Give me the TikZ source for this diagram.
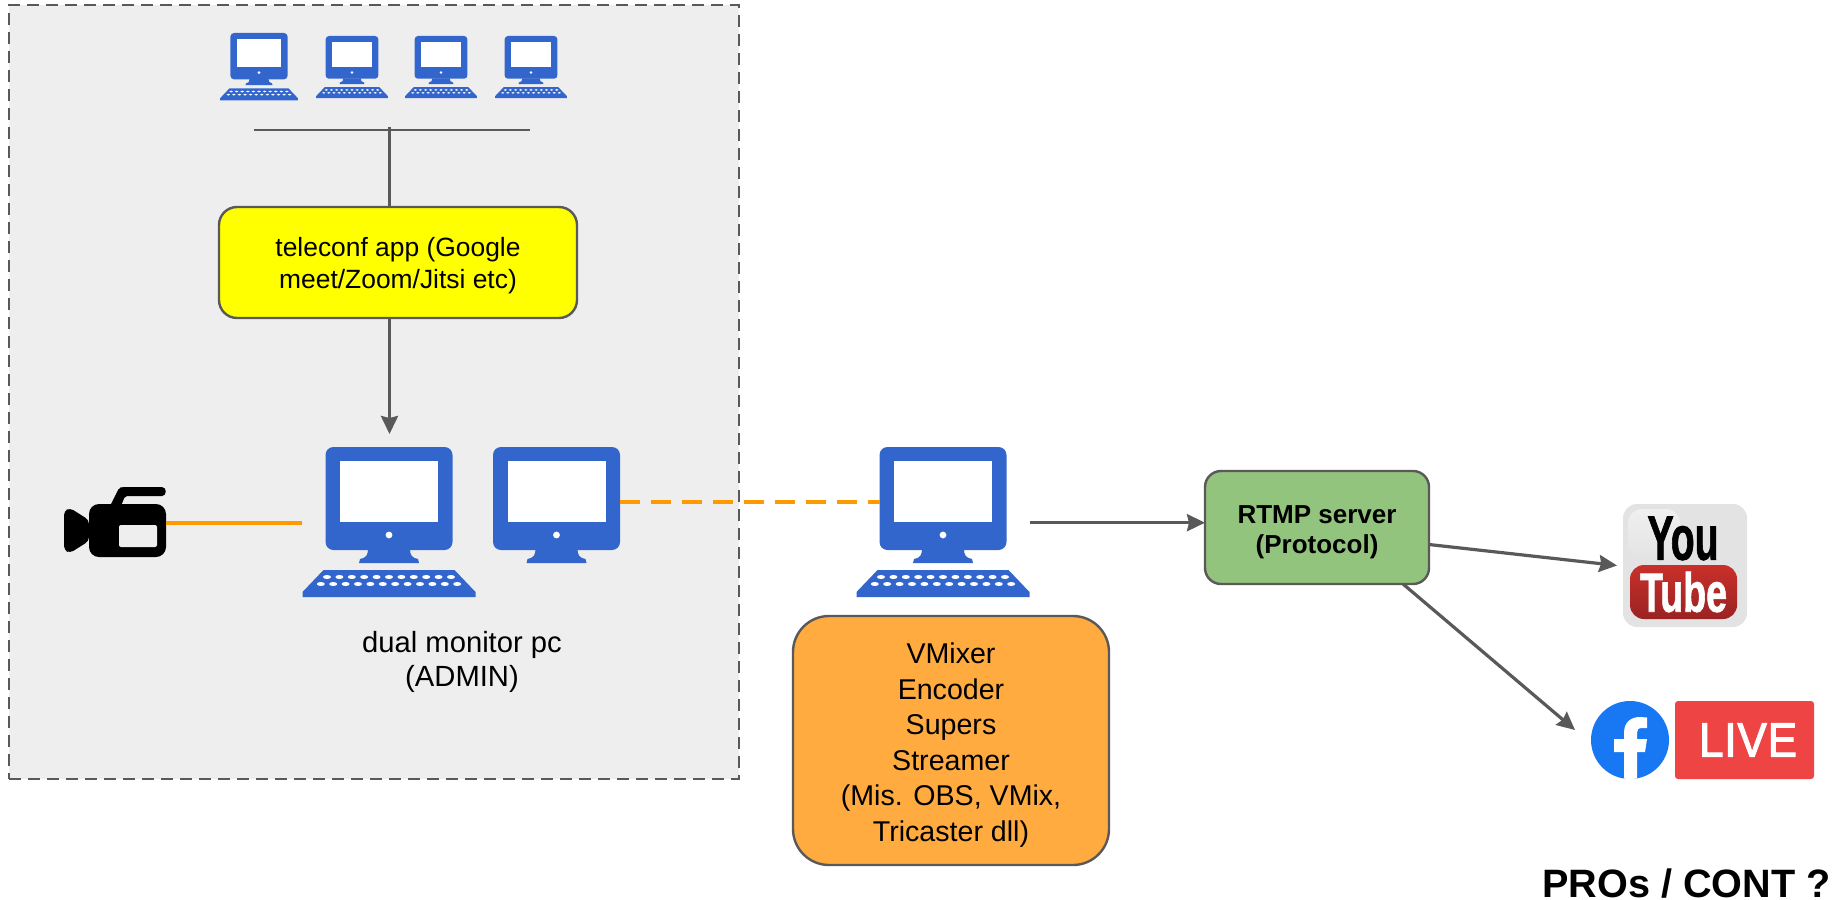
\documentclass[tikz,border=0pt]{standalone}
\usepackage{fontspec}
\usepackage{graphicx}
\setmainfont{Liberation Sans}
\usetikzlibrary{arrows.meta,calc}
\definecolor{pcblue}{HTML}{3366CC}
\definecolor{linegrey}{HTML}{595959}
\definecolor{panelgrey}{HTML}{EEEEEE}
\definecolor{feedorange}{HTML}{FF9900}
\definecolor{boxyellow}{HTML}{FFFF00}
\definecolor{boxgreen}{HTML}{93C47D}
\definecolor{boxorange}{HTML}{FFAB40}
\definecolor{ytgrey}{HTML}{E3E3E3}
\definecolor{ytredtop}{HTML}{C9302A}
\definecolor{ytredbot}{HTML}{9A2323}
\definecolor{fbblue}{HTML}{1877F2}
\definecolor{livered}{HTML}{EE4444}
\tikzset{
  x=0.5pt,y=-0.5pt,
  iconbox/.style={inner sep=0pt,outer sep=0pt,minimum width=#1},
  flow/.style={draw=linegrey,line width=1.6pt,-{Stealth[length=9pt,width=8.5pt,inset=1pt]}},
  plainline/.style={draw=linegrey,line width=1.6pt},
  feed/.style={draw=feedorange,line width=1.9pt},
  feeddash/.style={feed,dash pattern=on 10pt off 5.5pt},
  roundbox/.style={draw=linegrey,line width=1.2pt,align=center,inner sep=0pt,outer sep=0pt,text=black},
  pics/screenunit/.style={code={
    \begin{scope}[scale=#1]
      \fill[pcblue,rounded corners=#1*4pt] (-63.5,0) rectangle (63.5,103);
      \fill[pcblue] (-21,102) .. controls (-21,108) and (-23,111) .. (-29,112) -- (-30,116) -- (30,116) -- (29,112) .. controls (23,111) and (21,108) .. (21,102) -- cycle;
      \fill[white] (-49,14) rectangle (49,75);
      \fill[white] (0,88) ellipse [x radius=3.4,y radius=3.4];
    \end{scope}}},
  pics/keyboardunit/.style={code={
    \begin{scope}[scale=#1]
      \fill[pcblue] (-65.5,123) -- (65.5,123) -- (86.5,145) -- (86.5,150) -- (-86.5,150) -- (-86.5,145) -- cycle;
      \foreach \k in {0,...,10}{\fill[white] (-62+\k*12.4,130) ellipse [x radius=4,y radius=2];}
      \foreach \k in {0,...,11}{\fill[white] (-68.2+\k*12.4,137) ellipse [x radius=4,y radius=2];}
    \end{scope}}},
}
\begin{document}
\begin{tikzpicture}
\useasboundingbox (0,0) rectangle (1834,899);
% panel
\node[draw=linegrey,fill=panelgrey,line width=1.2pt,dash pattern=on 6pt off 3.5pt,inner sep=0pt,minimum width=365pt,minimum height=387pt] (panel) at (374,392) {};

% small computers
\foreach \cx/\cy/\cs in {259/33/.45,352/36/.415,441/36/.415,531/36/.415}{
  \pic at (\cx,\cy) {screenunit=\cs};
  \pic at (\cx,\cy) {keyboardunit=\cs};
}
% bus
\coordinate (busL) at (254,130);
\coordinate (busR) at (530,130);
\coordinate (busT) at (389.5,127);
\draw[plainline,line width=1.3pt] (busL) -- (busR);

% teleconf
\node[roundbox,fill=boxyellow,rounded corners=9pt,minimum width=179pt,minimum height=55.5pt] (teleconf) at (398,262.5) {};
\node[align=center,inner sep=0pt,font=\fontsize{13.2}{16}\selectfont] (teleconftext) at (398,266) {teleconf app (Google\\meet/Zoom/Jitsi etc)};
\draw[plainline] (busT) -- (busT |- teleconf.north);
\coordinate (pcAin) at (389.5,434);
\draw[flow] (busT |- teleconf.south) -- (pcAin);

% admin pc
\node[iconbox=87pt,minimum height=75.5pt] (pcA) at (389,522.7) {};
\pic at (389,447) {screenunit=1};
\pic at (389,447) {keyboardunit=1};
\node[iconbox=63.5pt,minimum height=62pt] (monB) at (556.5,502) {};
\pic at (556.5,447) {screenunit=1};

% camera
\node[iconbox=51pt,minimum height=35pt] (cam) at (115,522.7) {};
\fill[black,rounded corners=5pt] (89,504) rectangle (166,557);
\fill[black,rounded corners=2pt] (89,520) -- (70,508) -- (64,511) -- (64,550) -- (70,553) -- (89,541) -- cycle;
\fill[black,rounded corners=1pt] (110,506) -- (119,488) -- (122,487) -- (160,487) .. controls (167,487) and (167,496) .. (160,496) -- (125,496) -- (121,506) -- cycle;
\fill[panelgrey,rounded corners=1pt] (119,525) rectangle (157,547);
\draw[feed] (cam.east) -- (pcA.west);

% admin label
\node[align=center,inner sep=0pt,font=\fontsize{14.6}{17}\selectfont] (adminlabel) at (462,662) {dual monitor pc\\(ADMIN)};

% encoder pc
\node[iconbox=86.5pt,minimum height=75.5pt] (pcC) at (943.5,522.7) {};
\pic at (943,447) {screenunit=1};
\pic at (943,447) {keyboardunit=1};
\coordinate (pcCin) at (880,502);
\draw[feeddash] (monB.east) -- (pcCin);

% vmixer box
\node[roundbox,fill=boxorange,rounded corners=18pt,minimum width=158pt,minimum height=124.5pt] (vmix) at (951,740.5) {};
\node[align=center,inner sep=0pt,font=\fontsize{14.3}{17.8}\selectfont] (vmixtext) at (951,745) {VMixer\\Encoder\\Supers\\Streamer\\(Mis. OBS, VMix,\\Tricaster dll)};

% rtmp
\node[roundbox,fill=boxgreen,rounded corners=8pt,minimum width=112pt,minimum height=56.5pt] (rtmp) at (1317,527.5) {};
\node[align=center,inner sep=0pt,font=\fontsize{13}{15}\selectfont\bfseries] (rtmptext) at (1317,532.5) {RTMP server\\(Protocol)};
\draw[flow] (pcC.east) -- (pcC.east -| rtmp.west);

% youtube
\node[iconbox=65pt,minimum height=61.5pt] (yt) at (1682,565.5) {};
\fill[ytgrey,rounded corners=7pt] (1623,504) rectangle (1747,627);
\shade[top color=ytgrey!55!white,bottom color=ytgrey,rounded corners=7pt] (1628,509) rectangle (1680,560);
\shade[top color=ytredtop,bottom color=ytredbot,rounded corners=7pt] (1630,565) rectangle (1737,619);
\node[inner sep=0pt] (ytyou) at (1683,538.5) {\resizebox{35.5pt}{21.5pt}{\bfseries\addfontfeatures{FakeBold=1.5}You}};
\node[inner sep=0pt,text=white] (yttube) at (1683.5,592) {\resizebox{43.5pt}{20pt}{\bfseries\addfontfeatures{FakeBold=1.5}Tube}};
\draw[flow] ($(rtmp.east)+(0,17)$) -- (yt.west);

% facebook live
\node[draw=none,fill=fbblue,circle,inner sep=0pt,outer sep=0pt,minimum size=39pt] (fb) at (1630,740) {};
\begin{scope}
  \clip (1630,740) circle [radius=39];
  \fill[white] (1624,780) -- (1624,752) -- (1614,752) -- (1614,739) -- (1624,739) -- (1624,733) .. controls (1624,722) and (1631,717) .. (1640,717) -- (1647,717.5) -- (1647,728) -- (1642,728) .. controls (1638,728) and (1637,730) .. (1637,733) -- (1637,739) -- (1647,739) -- (1645,752) -- (1637,752) -- (1637,780) -- cycle;
\end{scope}
\node[fill=livered,rounded corners=1.5pt,inner sep=0pt,outer sep=0pt,minimum width=69.5pt,minimum height=39pt] (live) at (1744.5,740) {};
\node[inner sep=0pt,text=white] (livetext) at (1748,740) {\resizebox{49pt}{16.5pt}{\fontspec{Liberation Sans}[LetterSpace=2,FakeBold=2.5]LIVE}};
\coordinate (fbin) at (1575,730);
\draw[flow] ($(rtmp.south)+(86,0)$) -- (fbin);

% footer
\node[inner sep=0pt,anchor=east] (pros) at (1831,884) {\fontsize{19.8}{23}\selectfont\bfseries PROs / CONT ?};
\end{tikzpicture}
\end{document}
